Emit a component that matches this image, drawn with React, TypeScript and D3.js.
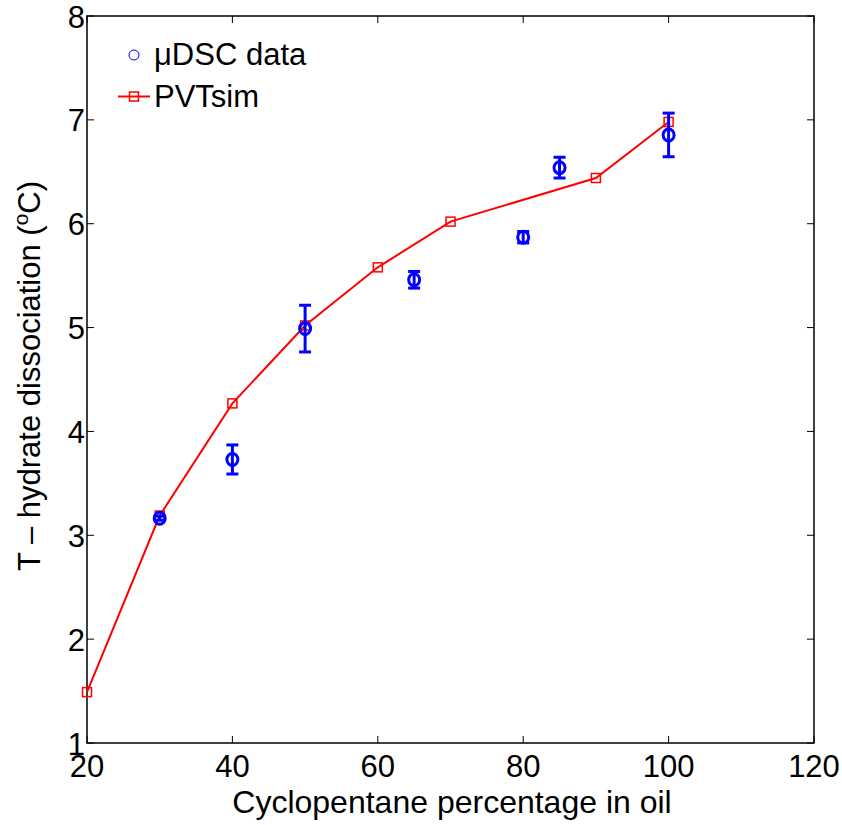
import React from "react";
import * as d3 from "d3";

const pvtX = [20, 30, 40, 50, 60, 70, 90, 100];
const pvtY = [1.49, 3.19, 4.27, 5.02, 5.58, 6.02, 6.44, 6.98];

const dscX = [30, 40, 50, 65, 80, 85, 100];
const dscY = [3.165, 3.73, 4.99, 5.46, 5.87, 6.54, 6.855];
const dscErr = [0.02, 0.14, 0.225, 0.08, 0.055, 0.1, 0.21];

const xTicks = [20, 40, 60, 80, 100, 120];
const yTicks = [1, 2, 3, 4, 5, 6, 7, 8];

const W = 842;
const H = 825;
const left = 87;
const right = 814;
const top = 16;
const bottom = 743;
const font = "'Liberation Sans', Arial, Helvetica, sans-serif";
const fs = 31;

export default function App() {
  const x = d3.scaleLinear().domain([20, 120]).range([left, right]);
  const y = d3.scaleLinear().domain([1, 8]).range([bottom, top]);
  const line = d3
    .line<number>()
    .x((_, i) => x(pvtX[i]))
    .y((d) => y(d));
  const tl = 7;
  const sq = 9;
  return (
    <svg
      width={W}
      height={H}
      style={{ position: "absolute", left: 0, top: 0, background: "#fff" }}
      fontFamily={font}
    >
      <rect x={0} y={0} width={W} height={H} fill="#fff" />
      {/* ticks */}
      {xTicks.map((t) => (
        <g key={"xt" + t}>
          <line x1={x(t)} x2={x(t)} y1={bottom} y2={bottom - tl} stroke="#000" strokeWidth={1} />
          <line x1={x(t)} x2={x(t)} y1={top} y2={top + tl} stroke="#000" strokeWidth={1} />
          <text x={x(t)} y={777} fontSize={fs} textAnchor="middle" fill="#000">
            {t}
          </text>
        </g>
      ))}
      {yTicks.map((t) => (
        <g key={"yt" + t}>
          <line x1={left} x2={left + tl} y1={y(t)} y2={y(t)} stroke="#000" strokeWidth={1} />
          <line x1={right} x2={right - tl} y1={y(t)} y2={y(t)} stroke="#000" strokeWidth={1} />
          <text x={85} y={y(t) + 11.5} fontSize={fs} textAnchor="end" fill="#000">
            {t}
          </text>
        </g>
      ))}
      <rect x={left} y={top} width={right - left} height={bottom - top} fill="none" stroke="#000" strokeWidth={1.5} />

      {/* PVTsim line */}
      <path d={line(pvtY) || ""} fill="none" stroke="#ff0000" strokeWidth={2} />
      {pvtY.map((v, i) => (
        <rect
          key={"sq" + i}
          x={x(pvtX[i]) - sq / 2}
          y={y(v) - sq / 2}
          width={sq}
          height={sq}
          fill="none"
          stroke="#ff0000"
          strokeWidth={1.5}
        />
      ))}

      {/* DSC data with error bars */}
      {dscY.map((v, i) => {
        const cx = x(dscX[i]);
        const y1 = y(v + dscErr[i]);
        const y2 = y(v - dscErr[i]);
        return (
          <g key={"d" + i} stroke="#0000ff" strokeWidth={3} fill="none">
            <line x1={cx} x2={cx} y1={y1} y2={y2} />
            <line x1={cx - 6} x2={cx + 6} y1={y1} y2={y1} />
            <line x1={cx - 6} x2={cx + 6} y1={y2} y2={y2} />
            <ellipse cx={cx} cy={y(v)} rx={5.5} ry={6} />
          </g>
        );
      })}

      {/* legend */}
      <circle cx={134} cy={55} r={5} fill="none" stroke="#0000ff" strokeWidth={1} />
      <text x={154} y={65} fontSize={fs} fill="#000">
        μDSC data
      </text>
      <line x1={118} x2={150} y1={96.5} y2={96.5} stroke="#ff0000" strokeWidth={2} />
      <rect x={134 - 4.5} y={96.5 - 4.5} width={9} height={9} fill="none" stroke="#ff0000" strokeWidth={1.5} />
      <text x={154} y={107} fontSize={fs} fill="#000">
        PVTsim
      </text>

      {/* axis labels */}
      <text x={452} y={813} fontSize={32} textAnchor="middle" fill="#000">
        Cyclopentane percentage in oil
      </text>
      <text
        transform={`translate(40, 376) rotate(-90)`}
        fontSize={fs}
        textAnchor="middle"
        fill="#000"
      >
        T – hydrate dissociation (<tspan dy={-12} fontSize={21}>o</tspan>
        <tspan dy={12}>C)</tspan>
      </text>
    </svg>
  );
}
